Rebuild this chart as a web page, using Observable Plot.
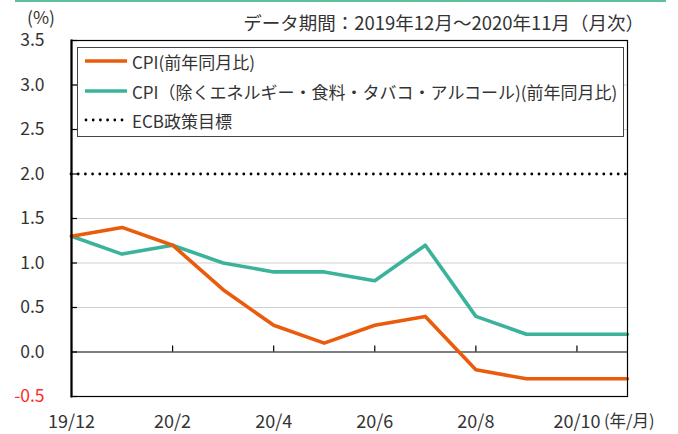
<!DOCTYPE html>
<html>
<head>
<meta charset="utf-8">
<script src="https://cdn.jsdelivr.net/npm/d3@7"></script>
<script src="https://cdn.jsdelivr.net/npm/@observablehq/plot@0.6"></script>
<style>
  html, body { margin: 0; padding: 0; background: #fff; }
  #wrap { position: relative; width: 678px; height: 434px; font-family: "Noto Sans CJK JP", sans-serif; color: #333; }
  #wrap > svg { position: absolute; left: 0; top: 0; }
  .topline { position: absolute; left: 15px; top: 0; width: 651px; height: 2px; background: #5cc19a; }
  .unit { position: absolute; left: 27px; top: 8px; font-size: 17.5px; line-height: 18px; }
  .sub { position: absolute; right: 34px; top: 10px; font-size: 18.5px; line-height: 24px; white-space: nowrap; }
  .xunit { position: absolute; left: 604px; top: 409px; font-size: 16.5px; line-height: 22px; white-space: nowrap; }
  .legend { position: absolute; left: 77px; top: 47px; width: 547px; height: 90px; background: #fff; border: 1.5px solid #444; box-sizing: border-box; }
  .legend .item { position: absolute; left: 6px; height: 24px; display: flex; align-items: center; font-size: 17px; white-space: nowrap; }
  .legend svg { margin-right: 4px; }
</style>
</head>
<body>
<div id="wrap"></div>
<script>
// ---- data ----
const months = ["19/12","20/1","20/2","20/3","20/4","20/5","20/6","20/7","20/8","20/9","20/10","20/11"];
const cpi  = [1.3, 1.4, 1.2, 0.7, 0.3, 0.1, 0.3, 0.4, -0.2, -0.3, -0.3, -0.3];
const core = [1.3, 1.1, 1.2, 1.0, 0.9, 0.9, 0.8, 1.2, 0.4, 0.2, 0.2, 0.2];
const ecbTarget = [2.0];
const yTicks = [-0.5, 0, 0.5, 1, 1.5, 2, 2.5, 3, 3.5];
const xTickIdx = [0, 2, 4, 6, 8, 10];
const seriesNames = ["CPI(前年同月比)", "CPI（除くエネルギー・食料・タバコ・アルコール)(前年同月比)", "ECB政策目標"];
const colors = ["#ea5b0c", "#3bb39a", "#000"];
const subtitle = "データ期間：2019年12月～2020年11月（月次）";
const yUnit = "(%)";
const xUnit = "(年/月)";

const cpiData = cpi.map((v, i) => ({i, v}));
const coreData = core.map((v, i) => ({i, v}));

const fmt = d => d.toFixed(1);

const chart = Plot.plot({
  width: 678,
  height: 434,
  marginLeft: 71,
  marginRight: 51,
  marginTop: 40,
  marginBottom: 38,
  style: {fontFamily: "'Noto Sans CJK JP', sans-serif", fontSize: "17.5px", color: "#333", background: "transparent", overflow: "visible"},
  x: {domain: [0, months.length - 1], axis: null},
  y: {domain: [-0.5, 3.5], axis: null},
  marks: [
    Plot.gridY(yTicks.filter(d => d > 0 && d !== 2 && d < 3.5), {stroke: "#cfcfcf", strokeOpacity: 1, strokeWidth: 1.2}),
    Plot.ruleY([0], {stroke: "#000", strokeWidth: 1.2}),
    Plot.ruleX(xTickIdx.filter(d => d > 0), {x: d => d, y1: 0, y2: 0, insetTop: -6, stroke: "#000", strokeWidth: 1.2}),
    Plot.ruleY(ecbTarget, {stroke: "#000", strokeWidth: 2.8, strokeDasharray: "0,7.2", strokeLinecap: "round"}),
    Plot.line(coreData, {x: "i", y: "v", stroke: colors[1], strokeWidth: 3.6}),
    Plot.line(cpiData, {x: "i", y: "v", stroke: colors[0], strokeWidth: 3.6}),
    Plot.frame({stroke: "#000", strokeWidth: 1.2}),
    Plot.frame({anchor: "left", stroke: "#000", strokeWidth: 2.2}),
    Plot.ruleY(yTicks, {y: d => d, x1: 0, x2: 0, insetRight: -6, stroke: "#000", strokeWidth: 1.2}),
    Plot.axisY(yTicks.filter(d => d >= 0), {anchor: "left", label: null, tickSize: 0, tickPadding: 27, tickFormat: fmt, fill: "#333"}),
    Plot.axisY(yTicks.filter(d => d < 0), {anchor: "left", label: null, tickSize: 0, tickPadding: 27, tickFormat: fmt, fill: "#ff2a2a"}),
    Plot.axisX(xTickIdx, {anchor: "bottom", label: null, tickSize: 0, tickPadding: 19, tickFormat: i => months[i], fill: "#333", fontSize: 18})
  ]
});

const wrap = document.getElementById("wrap");
wrap.appendChild(chart);

function add(cls, text) {
  const d = document.createElement("div");
  d.className = cls;
  d.textContent = text;
  wrap.appendChild(d);
  return d;
}
const tl = document.createElement("div"); tl.className = "topline"; wrap.appendChild(tl);
add("unit", yUnit);
add("sub", subtitle);
add("xunit", xUnit);

const legend = document.createElement("div");
legend.className = "legend";
const rowsTop = [1, 31, 60];
seriesNames.forEach((name, k) => {
  const item = document.createElement("div");
  item.className = "item";
  item.style.top = rowsTop[k] + "px";
  const sw = d3.create("svg").attr("width", 44).attr("height", 10);
  const ln = sw.append("line").attr("x1", 1).attr("x2", 43).attr("y1", 5).attr("y2", 5).attr("stroke", colors[k]);
  if (k === 2) ln.attr("stroke-width", 2.8).attr("stroke-dasharray", "0,7.2").attr("stroke-linecap", "round").attr("x1", 2).attr("x2", 40);
  else ln.attr("stroke-width", 3.6);
  item.appendChild(sw.node());
  const t = document.createElement("span");
  t.textContent = name;
  item.appendChild(t);
  legend.appendChild(item);
});
wrap.appendChild(legend);
</script>
</body>
</html>
